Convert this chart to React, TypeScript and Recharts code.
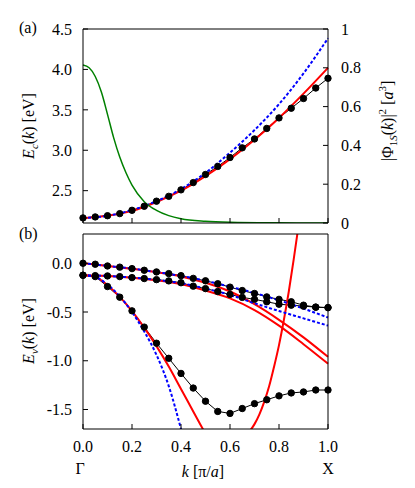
import React from 'react';
import { LineChart, Line, XAxis, YAxis } from 'recharts';

// k grid of the computed points (black dots)
const kDots = [0, 0.05, 0.1, 0.15, 0.2, 0.25, 0.3, 0.35, 0.4, 0.45, 0.5, 0.55, 0.6, 0.65, 0.7, 0.75, 0.8, 0.85, 0.9, 0.95, 1.0];
const kCoarse = [0, 0.1, 0.2, 0.3, 0.4, 0.5, 0.6, 0.7, 0.8, 0.9, 1.0];

// (a) conduction band [eV]
const ecDots = [2.163, 2.175, 2.19, 2.216, 2.257, 2.307, 2.37, 2.43, 2.51, 2.6, 2.7, 2.8, 2.91, 3.03, 3.14, 3.27, 3.4, 3.52, 3.64, 3.77, 3.89];
const ecRed = [2.16, 2.19, 2.25, 2.36, 2.5, 2.68, 2.89, 3.13, 3.4, 3.7, 4.02];
const ecBlue = [2.16, 2.19, 2.26, 2.37, 2.52, 2.72, 2.97, 3.25, 3.57, 3.95, 4.385];

// (a) exciton envelope |Phi_1S(k)|^2 [a^3]
const kPhi = [0, 0.025, 0.05, 0.075, 0.1, 0.125, 0.15, 0.175, 0.2, 0.25, 0.3, 0.35, 0.4, 0.5, 0.6, 0.8, 1.0];
const phi = [0.814, 0.8, 0.755, 0.675, 0.56, 0.44, 0.34, 0.26, 0.195, 0.11, 0.065, 0.038, 0.022, 0.009, 0.004, 0.001, 0];

// (b) valence bands [eV]
const ev1Dots = [0, -0.01, -0.028, -0.04, -0.055, -0.072, -0.089, -0.106, -0.127, -0.155, -0.18, -0.21, -0.245, -0.28, -0.31, -0.345, -0.37, -0.395, -0.43, -0.45, -0.455];
const ev2Dots = [-0.123, -0.127, -0.13, -0.137, -0.147, -0.157, -0.168, -0.181, -0.2, -0.235, -0.26, -0.29, -0.32, -0.35, -0.37, -0.395, -0.42, -0.43, -0.44, -0.45, -0.455];
const ev3Dots = [-0.123, -0.137, -0.239, -0.348, -0.488, -0.655, -0.82, -0.975, -1.13, -1.28, -1.415, -1.52, -1.54, -1.49, -1.44, -1.4, -1.36, -1.33, -1.32, -1.3, -1.3];

const ev1Red = [0, -0.028, -0.057, -0.092, -0.135, -0.2, -0.29, -0.42, -0.58, -0.76, -0.96];
const ev2Red = [-0.123, -0.13, -0.148, -0.175, -0.215, -0.28, -0.36, -0.48, -0.64, -0.83, -1.03];
const ev1Blue = [0, -0.027, -0.055, -0.09, -0.13, -0.18, -0.24, -0.305, -0.38, -0.465, -0.557];
const ev2Blue = [-0.123, -0.13, -0.147, -0.17, -0.205, -0.26, -0.325, -0.41, -0.49, -0.565, -0.64];

const kSo = [0, 0.05, 0.1, 0.15, 0.2, 0.25, 0.3, 0.35, 0.4, 0.45, 0.5];
const ev3Red = [-0.123, -0.14, -0.225, -0.345, -0.49, -0.66, -0.85, -1.06, -1.29, -1.52, -1.75];
const ev3Blue = [-0.123, -0.14, -0.22, -0.34, -0.5, -0.7, -0.94, -1.26, -1.7, -2.2];

const kSteep = [0.66, 0.68, 0.7, 0.72, 0.74, 0.76, 0.78, 0.8, 0.82, 0.84, 0.86, 0.88];
const evSteep = [-1.75, -1.72, -1.65, -1.55, -1.42, -1.26, -1.06, -0.84, -0.58, -0.29, 0.04, 0.39];

const kTicks = [0, 0.2, 0.4, 0.6, 0.8, 1.0];
const ecTicks = [2.5, 3.0, 3.5, 4.0, 4.5];
const phiTicks = [0, 0.2, 0.4, 0.6, 0.8, 1];
const evTicks = [-1.5, -1.0, -0.5, 0.0];
const pointNames = [{ k: 0, name: 'Γ' }, { k: 1, name: 'X' }];

const pts = (ks: number[], vs: number[]) => vs.map((v, i) => ({ k: ks[i], v }));

const FONT = "'Liberation Serif', 'DejaVu Serif', serif";
const tickStyle = { fontSize: 16, fill: '#000', style: { fontFamily: FONT } };
const line = { stroke: '#000' };

const RED = '#ff0000';
const BLUE = '#0000ff';
const DOT = { r: 3.2, fill: '#000', stroke: '#000', strokeWidth: 1 };

const KTick = (props: any) => {
  const { x, y, payload } = props;
  const v = payload.value as number;
  const pn = pointNames.find((p) => p.k === v);
  return (
    <g>
      <text x={x} y={y + 23} textAnchor="middle" {...tickStyle}>{v.toFixed(1)}</text>
      {pn && <text x={x - (v === 0 ? 3 : 0)} y={y + 45} textAnchor="middle" {...tickStyle}>{pn.name}</text>}
    </g>
  );
};

function TopPanel() {
  return (
    <LineChart width={415} height={240} margin={{ top: 28, right: 0, bottom: 0, left: 0 }}>
      <XAxis xAxisId="b" type="number" dataKey="k" domain={[0, 1]} ticks={kTicks} height={17} interval={0}
        tickSize={-5} tickFormatter={() => ''} axisLine={line} tickLine={line} />
      <XAxis xAxisId="t" orientation="top" type="number" dataKey="k" domain={[0, 1]} ticks={kTicks} height={1} interval={0}
        tickSize={-5} tickFormatter={() => ''} axisLine={line} tickLine={line} />
      <YAxis yAxisId="l" type="number" domain={[2.1, 4.5]} ticks={ecTicks} width={83} allowDataOverflow interval={0}
        tickSize={-5} tickMargin={16} tick={tickStyle} tickFormatter={(v: number) => v.toFixed(1)} axisLine={line} tickLine={line} />
      <YAxis yAxisId="r" orientation="right" type="number" domain={[0, 1]} ticks={phiTicks} width={87} allowDataOverflow interval={0}
        tickSize={-5} tickMargin={18} tick={tickStyle} tickFormatter={(v: number) => String(v)} axisLine={line} tickLine={line} />
      <Line xAxisId="b" yAxisId="l" data={pts(kDots, ecDots)} dataKey="v" stroke="#000" strokeWidth={1}
        dot={DOT} isAnimationActive={false} />
      <Line xAxisId="b" yAxisId="l" data={pts(kCoarse, ecRed)} dataKey="v" type="monotone" stroke={RED} strokeWidth={2}
        dot={false} isAnimationActive={false} />
      <Line xAxisId="b" yAxisId="l" data={pts(kCoarse, ecBlue)} dataKey="v" type="monotone" stroke={BLUE} strokeWidth={2}
        strokeDasharray="3 2" dot={false} isAnimationActive={false} />
      <Line xAxisId="b" yAxisId="r" data={pts(kPhi, phi)} dataKey="v" type="monotone" stroke="#008000" strokeWidth={1.5}
        dot={false} isAnimationActive={false} />
    </LineChart>
  );
}

function BottomPanel() {
  const black = [ev1Dots, ev2Dots, ev3Dots];
  const reds = [pts(kCoarse, ev1Red), pts(kCoarse, ev2Red), pts(kSo, ev3Red), pts(kSteep, evSteep)];
  const blues = [pts(kCoarse, ev1Blue), pts(kCoarse, ev2Blue), pts(kSo, ev3Blue)];
  return (
    <LineChart width={415} height={258} margin={{ top: 3, right: 0, bottom: 0, left: 0 }}>
      <XAxis xAxisId="b" type="number" dataKey="k" domain={[0, 1]} ticks={kTicks} height={59} interval={0}
        tickSize={-5} tickMargin={5} tick={<KTick />} axisLine={line} tickLine={line} />
      <XAxis xAxisId="t" orientation="top" type="number" dataKey="k" domain={[0, 1]} ticks={kTicks} height={1} interval={0}
        tickSize={-5} tickFormatter={() => ''} axisLine={line} tickLine={line} />
      <YAxis yAxisId="l" type="number" domain={[-1.7, 0.3]} ticks={evTicks} width={83} allowDataOverflow interval={0}
        tickSize={-5} tickMargin={16} tick={tickStyle} tickFormatter={(v: number) => v.toFixed(1)} axisLine={line} tickLine={line} />
      <YAxis yAxisId="r" orientation="right" type="number" domain={[-1.7, 0.3]} width={87} allowDataOverflow
        tick={false} tickLine={false} axisLine={line} />
      {black.map((vs, i) => (
        <Line key={'k' + i} xAxisId="b" yAxisId="l" data={pts(kDots, vs)} dataKey="v" stroke="#000" strokeWidth={1}
          dot={DOT} isAnimationActive={false} />
      ))}
      {reds.map((d, i) => (
        <Line key={'r' + i} xAxisId="b" yAxisId="l" data={d} dataKey="v" type="monotone" stroke={RED} strokeWidth={2}
          dot={false} isAnimationActive={false} />
      ))}
      {blues.map((d, i) => (
        <Line key={'u' + i} xAxisId="b" yAxisId="l" data={d} dataKey="v" type="monotone" stroke={BLUE} strokeWidth={2}
          strokeDasharray="3 2" dot={false} isAnimationActive={false} />
      ))}
    </LineChart>
  );
}

export default function App() {
  const t = { fontSize: 16, fill: '#000', style: { fontFamily: FONT } };
  return (
    <div style={{ position: 'absolute', left: 0, top: 0, width: 415, height: 488, background: '#fff', fontFamily: FONT }}>
      <div style={{ position: 'absolute', left: 0, top: 0 }}><TopPanel /></div>
      <div style={{ position: 'absolute', left: 0, top: 230 }}><BottomPanel /></div>
      <svg width={415} height={488} style={{ position: 'absolute', left: 0, top: 0, pointerEvents: 'none' }}>
        <text x={19} y={33} {...t}>(a)</text>
        <text x={19} y={239} {...t}>(b)</text>
        <text transform="translate(34,126) rotate(-90)" textAnchor="middle" {...t}>
          <tspan fontStyle="italic">E</tspan>
          <tspan fontStyle="italic" fontSize={11} dy={4}>c</tspan>
          <tspan dy={-4}>(</tspan><tspan fontStyle="italic">k</tspan><tspan>) [eV]</tspan>
        </text>
        <text transform="translate(34,331) rotate(-90)" textAnchor="middle" {...t}>
          <tspan fontStyle="italic">E</tspan>
          <tspan fontStyle="italic" fontSize={11} dy={4}>v</tspan>
          <tspan dy={-4}>(</tspan><tspan fontStyle="italic">k</tspan><tspan>) [eV]</tspan>
        </text>
        <text transform="translate(393,121) rotate(-90)" textAnchor="middle" {...t}>
          <tspan>|Φ</tspan>
          <tspan fontSize={11} dy={4}>1</tspan><tspan fontSize={11} fontStyle="italic">S</tspan>
          <tspan dy={-4}>(</tspan><tspan fontStyle="italic">k</tspan><tspan>)|</tspan>
          <tspan fontSize={11} dy={-7}>2</tspan>
          <tspan dy={7}> [</tspan><tspan fontStyle="italic">a</tspan>
          <tspan fontSize={11} dy={-7}>3</tspan>
          <tspan dy={7}>]</tspan>
        </text>
        <text x={203} y={477} textAnchor="middle" {...t}>
          <tspan fontStyle="italic">k</tspan><tspan> [π/</tspan><tspan fontStyle="italic">a</tspan><tspan>]</tspan>
        </text>
      </svg>
    </div>
  );
}
